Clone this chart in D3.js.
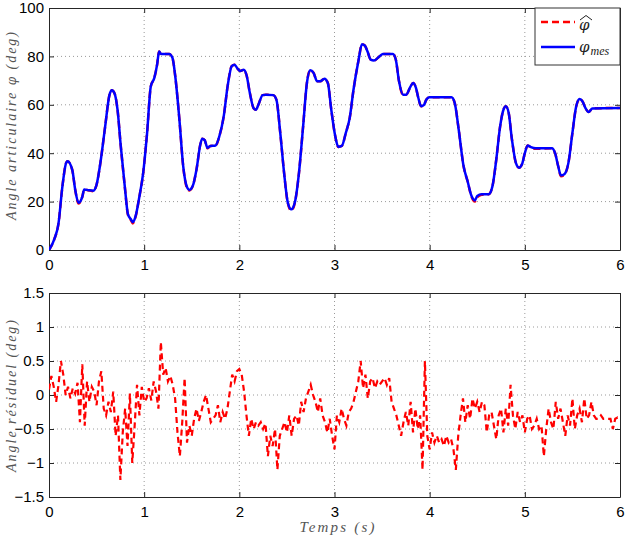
<!DOCTYPE html>
<html><head><meta charset="utf-8">
<script src="https://cdn.jsdelivr.net/npm/d3@7"></script>
<style>body{margin:0;background:#fff} svg{display:block}</style>
</head><body><svg id="c" width="632" height="543"></svg>
<script>
// ---------- DATA ----------
const xTicks = [0, 1, 2, 3, 4, 5, 6];
const yTicksTop = [0, 20, 40, 60, 80, 100];
const yTicksBot = [-1.5, -1, -0.5, 0, 0.5, 1, 1.5];
const yTickLabelsBot = ["\u22121.5", "\u22121", "\u22120.5", "0", "0.5", "1", "1.5"];

const timeTop = [0,0.055,0.1,0.14,0.18,0.195,0.245,0.275,0.31,0.35,0.37,0.415,0.466,0.5,0.54,0.59,0.635,0.66,0.69,0.72,0.754,0.797,0.83,0.86,0.88,0.91,0.945,0.99,1.03,1.07,1.106,1.136,1.157,1.178,1.263,1.297,1.326,1.37,1.41,1.453,1.475,1.51,1.55,1.59,1.61,1.636,1.665,1.695,1.75,1.79,1.835,1.877,1.92,1.95,1.98,2.01,2.046,2.076,2.11,2.15,2.174,2.2,2.245,2.28,2.356,2.39,2.43,2.47,2.51,2.546,2.585,2.627,2.67,2.71,2.745,2.78,2.818,2.85,2.894,2.93,2.966,3.008,3.04,3.077,3.119,3.16,3.2,3.254,3.288,3.318,3.347,3.38,3.415,3.457,3.508,3.614,3.644,3.678,3.72,3.754,3.797,3.826,3.856,3.88,3.91,3.94,3.966,3.996,4.229,4.263,4.305,4.356,4.398,4.44,4.475,4.5,4.546,4.62,4.66,4.7,4.74,4.78,4.8,4.83,4.864,4.906,4.94,4.97,5.0,5.03,5.064,5.115,5.285,5.318,5.35,5.38,5.415,5.458,5.5,5.54,5.576,5.606,5.636,5.67,5.71,6.0];

const phiMes = [0,4.4,11,26,36,36.7,33,25,19.5,22,25,24.7,24.5,27,36,51,64,66,64.6,58,43,26,14.7,12.7,11.5,14,21,32,48,67.7,71,76.6,82,81,81,79.4,72,54,34.7,25.7,24.8,26.4,33.3,43.6,46,45.4,42.2,43,43.2,47,55,67.7,76,76.6,75,74,74.5,72.2,65,58.6,58,60,64,64.2,64,62,48.4,32,19.5,16.8,20,32,51,69,74.3,73.2,69.7,69.7,70.8,69,58,47,42.6,43,48.4,54.6,66.3,78.7,85,84.5,82,78.7,78.3,79.4,81,81,78.7,69.7,64.2,64.2,67.4,69,67,63,59.4,60,62.2,63.1,63.1,60.8,49.8,34.7,28.5,22.3,20.5,22.3,23,23,26.4,37.4,51,58.5,59.4,56.7,45.8,36,34,35.4,40,43.2,42.5,42,42,40,34.7,30.8,31.3,36,48.4,59.4,62.4,61.4,58.7,57,58.5,58.7];

const phiHat = [0,4.4,11,26,36,36.7,33,25,19.2,22,25,24.7,24.3,27,36,51,64,66,64.6,58,43,26,14.5,12.4,11.0,13.8,21,32,48,67.7,71,76.6,82,81,81,79.4,72,54,34.7,25.3,24.6,26.4,33.3,43.6,46,45.4,42.0,43,43.2,47,55,67.7,76,76.6,75,74,74.5,72.2,65,58.6,58,60,64,64.2,64,62,48.4,32,19.3,16.3,19.8,32,51,69,74.3,73.2,69.7,69.7,70.8,69,58,47,42.6,43,48.4,54.6,66.3,78.7,85,84.5,82,78.7,78.3,79.4,81,81,78.7,69.7,64.2,64.2,67.4,69,67,63,59.4,60,62.2,63.1,63.1,60.8,49.8,34.7,28.5,22.0,20.0,21.8,22.8,23,26.4,37.4,51,58.5,59.4,56.7,45.8,36,34,35.4,40,43.2,42.3,41.8,42,40,34.7,30.5,31.1,36,48.4,59.4,62.4,61.4,58.7,57,58.5,58.7];

// residual sampled every 0.025 s from 0 to 6 s
const residual = [
 0.08,0.28,0.12,-0.10,  0.15,0.50,0.30,0.00,  0.12,-0.05,0.10,0.02,  0.18,-0.40,0.45,-0.45,
 0.20,-0.10,0.12,0.05,  -0.15,0.20,0.35,-0.20, -0.30,-0.10,-0.25,0.05, -0.60,-0.30,-1.25,-0.55,
 -0.20,-0.75,0.02,-1.00, -0.45,0.15,-0.30,0.12, -0.10,-0.05,0.10,-0.08, 0.20,0.05,-0.20,0.78,
 0.30,0.40,0.20,0.28,  0.15,-0.05,-0.55,-0.90, -0.40,0.25,-0.70,-0.45, -0.60,-0.35,-0.20,-0.38,
 -0.25,-0.10,0.00,-0.20, -0.40,-0.35,-0.30,-0.15, -0.40,-0.25,-0.35,-0.20, 0.05,0.30,0.20,0.35,
 0.38,0.30,0.05,-0.30, -0.60,-0.35,-0.50,-0.40, -0.45,-0.40,-0.50,-0.42, -0.90,-0.60,-0.75,-0.50,
 -1.10,-0.60,-0.50,-0.40, -0.55,-0.30,-0.60,-0.35, -0.30,-0.45,-0.10,-0.25, -0.05,0.05,0.15,0.00,
 -0.10,-0.25,-0.05,-0.30, -0.40,-0.55,-0.35,-0.60, -0.80,-0.30,-0.40,-0.20, -0.35,-0.45,-0.25,-0.20,
 -0.10,0.05,0.20,0.50,  0.10,0.30,-0.05,0.20,  0.25,0.10,0.20,0.15,  0.20,0.25,0.15,0.25,
 -0.10,-0.20,-0.30,-0.45, -0.60,-0.40,-0.25,-0.45, -0.10,-0.55,-0.20,-0.50, -0.30,-1.10,0.50,-0.60,
 -0.80,-0.55,-0.70,-0.60, -0.70,-0.65,-0.75,-0.60, -0.70,-0.65,-0.80,-1.10, -0.60,-0.30,-0.05,-0.40,
 -0.15,-0.35,-0.05,-0.20, -0.10,-0.25,-0.10,-0.15, -0.55,-0.30,-0.25,-0.45, -0.65,-0.30,-0.20,-0.55,
 -0.20,-0.45,0.15,-0.30, -0.50,-0.25,-0.40,-0.30, -0.55,-0.35,-0.30,-0.50, -0.45,-0.35,-0.50,-0.45,
 -0.90,-0.50,-0.20,-0.40, -0.50,-0.10,-0.35,-0.20, -0.40,-0.60,-0.30,-0.45, -0.05,-0.50,-0.30,-0.20,
 -0.40,-0.05,-0.35,-0.30, -0.10,-0.30,-0.35,-0.35, -0.30,-0.35,-0.35,-0.35, -0.35,-0.50,-0.35,-0.33,
 -0.35
];
const timeBot = residual.map((_, i) => i * 0.025);

// ---------- DRAW ----------
const svg = d3.select("#c");
svg.append("rect").attr("width", 632).attr("height", 543).attr("fill", "#fff");

const L = 49, R = 620;
const x = d3.scaleLinear().domain([0, 6]).range([L, R]);
const yTop = d3.scaleLinear().domain([0, 100]).range([250, 8]);
const yBot = d3.scaleLinear().domain([-1.5, 1.5]).range([497, 293]);

const tickFont = "Liberation Sans, Arial, Helvetica, sans-serif";
const mathFont = "Liberation Serif, DejaVu Serif, serif";
const phiFont = "DejaVu Serif, serif";

function panel(y, yTicks, yFmt, clipId) {
  const [yb, yt] = y.range();
  const g = svg.append("g");
  g.selectAll(".gx").data(xTicks.slice(1, -1)).join("line")
    .attr("x1", d => x(d)).attr("x2", d => x(d)).attr("y1", yt).attr("y2", yb)
    .attr("stroke", "#9a9a9a").attr("stroke-width", 1).attr("stroke-dasharray", "1,3");
  g.selectAll(".gy").data(yTicks.slice(1, -1)).join("line")
    .attr("x1", L).attr("x2", R).attr("y1", d => y(d)).attr("y2", d => y(d))
    .attr("stroke", "#9a9a9a").attr("stroke-width", 1).attr("stroke-dasharray", "1,3");

  svg.append("clipPath").attr("id", clipId).append("rect")
    .attr("x", L).attr("y", yt).attr("width", R - L).attr("height", yb - yt);

  const axes = [
    svg.append("g").attr("transform", `translate(0,${yb})`)
      .call(d3.axisBottom(x).tickValues(xTicks).tickSizeInner(-5).tickSizeOuter(0).tickPadding(9).tickFormat(d3.format("d"))),
    svg.append("g").attr("transform", `translate(0,${yt})`)
      .call(d3.axisTop(x).tickValues(xTicks).tickSizeInner(-5).tickSizeOuter(0).tickFormat("")),
    svg.append("g").attr("transform", `translate(${L},0)`)
      .call(d3.axisLeft(y).tickValues(yTicks).tickSizeInner(-5).tickSizeOuter(0).tickPadding(5).tickFormat(yFmt)),
    svg.append("g").attr("transform", `translate(${R},0)`)
      .call(d3.axisRight(y).tickValues(yTicks).tickSizeInner(-5).tickSizeOuter(0).tickFormat(""))
  ];
  axes.forEach(a => {
    a.select(".domain").attr("stroke", "#262626").attr("stroke-width", 1);
    a.selectAll(".tick line").attr("stroke", "#262626");
    a.selectAll(".tick text").attr("font-family", tickFont).attr("font-size", 15).attr("fill", "#000");
  });
  return g;
}

panel(yTop, yTicksTop, d3.format("d"), "clipTop");
panel(yBot, yTicksBot, d => yTickLabelsBot[yTicksBot.indexOf(d)], "clipBot");

// top lines
const lineTop = d3.line().x((d, i) => x(timeTop[i])).y(d => yTop(d)).curve(d3.curveMonotoneX);
svg.append("path").datum(phiHat).attr("d", lineTop)
  .attr("fill", "none").attr("stroke", "#ff0000").attr("stroke-width", 2.5)
  .attr("stroke-dasharray", "7,4").attr("clip-path", "url(#clipTop)");
svg.append("path").datum(phiMes).attr("d", lineTop)
  .attr("fill", "none").attr("stroke", "#0000ff").attr("stroke-width", 2.5)
  .attr("clip-path", "url(#clipTop)");

// bottom residual
const lineBot = d3.line().x((d, i) => x(timeBot[i])).y(d => yBot(d));
svg.append("path").datum(residual).attr("d", lineBot)
  .attr("fill", "none").attr("stroke", "#ff0000").attr("stroke-width", 2.2)
  .attr("stroke-dasharray", "6,4").attr("clip-path", "url(#clipBot)");

// legend
const lg = svg.append("g");
lg.append("rect").attr("x", 535).attr("y", 8).attr("width", 85).attr("height", 57)
  .attr("fill", "#fff").attr("stroke", "#333").attr("stroke-width", 1);
lg.append("line").attr("x1", 541).attr("x2", 575).attr("y1", 22).attr("y2", 22)
  .attr("stroke", "#ff0000").attr("stroke-width", 2.5).attr("stroke-dasharray", "7,4");
lg.append("line").attr("x1", 541).attr("x2", 575).attr("y1", 47).attr("y2", 47)
  .attr("stroke", "#0000ff").attr("stroke-width", 2.5);
lg.append("text").attr("x", 579).attr("y", 30).attr("font-family", phiFont)
  .attr("font-style", "italic").attr("font-size", 15).attr("fill", "#222").text("\u03C6");
// wide hat accent over the phi
lg.append("path").attr("d", "M580,20 L586,15.5 L592,20")
  .attr("fill", "none").attr("stroke", "#222").attr("stroke-width", 1);
const t2 = lg.append("text").attr("x", 579).attr("y", 52).attr("font-family", phiFont)
  .attr("font-style", "italic").attr("font-size", 15).attr("fill", "#222");
t2.append("tspan").text("\u03C6");
t2.append("tspan").attr("font-family", mathFont).attr("font-size", 12).attr("dy", 3).attr("dx", 1).text("mes");

// axis labels
const yl1 = svg.append("text").attr("transform", "translate(16,126) rotate(-90)")
  .attr("text-anchor", "middle").attr("font-family", mathFont).attr("font-style", "italic")
  .attr("font-size", 14).attr("fill", "#555")
  .attr("textLength", 188).attr("lengthAdjust", "spacing");
yl1.append("tspan").text("Angle articulaire ");
yl1.append("tspan").attr("font-family", phiFont).attr("font-size", 12).text("\u03C6");
yl1.append("tspan").text(" (deg)");
svg.append("text").attr("transform", "translate(16,396) rotate(-90)")
  .attr("text-anchor", "middle").attr("font-family", mathFont).attr("font-style", "italic")
  .attr("font-size", 14).attr("fill", "#555")
  .attr("textLength", 152).attr("lengthAdjust", "spacing")
  .text("Angle r\u00E9siduel (deg)");
svg.append("text").attr("x", 337).attr("y", 532)
  .attr("text-anchor", "middle").attr("font-family", mathFont).attr("font-style", "italic")
  .attr("font-size", 15).attr("fill", "#555")
  .attr("textLength", 75).attr("lengthAdjust", "spacing")
  .text("Temps (s)");
</script></body></html>
